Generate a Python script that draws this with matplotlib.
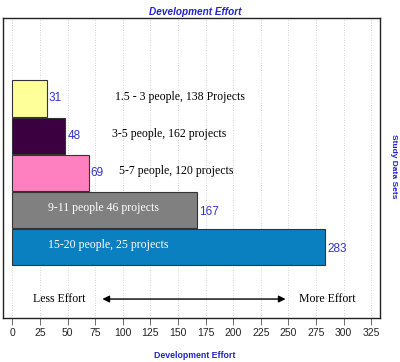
import matplotlib
matplotlib.use("Agg")
import matplotlib.pyplot as plt

categories = ["15-20 people, 25 projects", "9-11 people 46 projects",
              "5-7 people, 120 projects", "3-5 people, 162 projects",
              "1.5 - 3 people, 138 Projects"]
values = [283, 167, 69, 48, 31]
colors = ["#0a80c0", "#808080", "#ff80c0", "#3a0040", "#ffff99"]
text_colors = ["white", "white", "black", "black", "black"]
text_x = [32, 32, 97, 90, 93]
xticks = list(range(0, 326, 25))

fig = plt.figure(figsize=(4, 3.62), dpi=100)
ax = fig.add_axes([0.0075, 0.1215, 0.9425, 0.8285])

ypos = list(range(len(values)))
ax.barh(ypos, values, height=0.97, color=colors, edgecolor="#333333",
        linewidth=0.8, zorder=3)

for y, v, lab, tc, tx in zip(ypos, values, categories, text_colors, text_x):
    ax.text(v + 2, y - 0.05 if v > 100 else y, str(v), color="#3333cc",
            fontsize=8.5, family="Liberation Sans", va="center", ha="left",
            zorder=4)
    ax.text(tx, y + 0.05, lab, color=tc, fontsize=8.5,
            family="Liberation Serif", va="center", ha="left", zorder=4)

ax.text(19, -1.39, "Less Effort", fontsize=8.5, family="Liberation Serif",
        va="center", ha="left")
ax.text(260, -1.39, "More Effort", fontsize=8.5, family="Liberation Serif",
        va="center", ha="left")
ax.annotate("", xy=(79, -1.39), xytext=(250, -1.39),
            arrowprops=dict(arrowstyle="<|-|>", color="black", lw=1.0,
                            mutation_scale=10))

ax.set_xlim(-8.5, 333)
ax.set_ylim(-1.9, 6.16)
ax.set_yticks([])
ax.set_xticks(xticks)
ax.set_xticklabels([str(t) for t in xticks], fontsize=7.5,
                   family="Liberation Sans", color="#222222")
ax.tick_params(axis="x", direction="out", length=5, width=0.6,
               color="#555555", pad=2)
ax.grid(axis="x", linestyle=(0, (1, 2)), color="#c8c8c8", linewidth=0.6,
        zorder=0)
for s in ax.spines.values():
    s.set_linewidth(1.0)
    s.set_color("#222222")

fig.text(0.4875, 0.967, "Development Effort", color="#2222cc", fontsize=7.2,
         fontweight="bold", fontstyle="italic", family="Liberation Sans",
         ha="center", va="center")
fig.text(0.4875, 0.018, "Development Effort", color="#2222cc", fontsize=6.3,
         fontweight="bold", family="Liberation Sans", ha="center",
         va="center")
fig.text(0.983, 0.54, "Study Data Sets", color="#2222cc", fontsize=6,
         fontweight="bold", family="Liberation Sans", ha="center",
         va="center", rotation=-90)

fig.savefig("out.png", dpi=100)
